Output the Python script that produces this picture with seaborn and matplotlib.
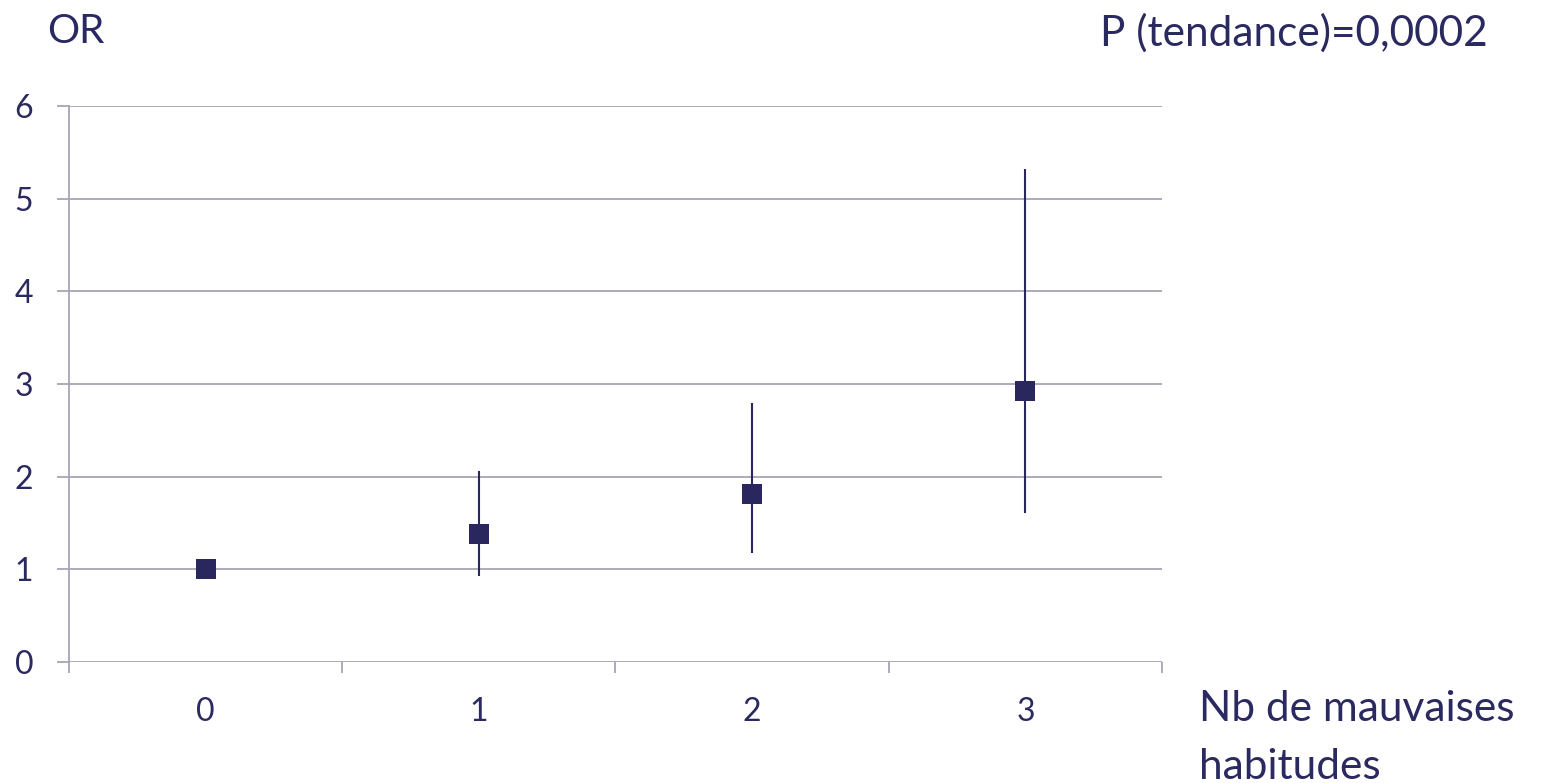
import matplotlib
matplotlib.use("Agg")
import matplotlib.pyplot as plt
import seaborn as sns
import pandas as pd
import numpy as np

# Data
categories = ["0", "1", "2", "3"]
or_values = [1.00, 1.38, 1.81, 2.93]
ci_low = [1.00, 0.93, 1.18, 1.61]
ci_high = [1.00, 2.06, 2.79, 5.32]
y_ticks = [0, 1, 2, 3, 4, 5, 6]

NAVY = "#29275e"
GRID = "#a5a5b5"
TXT = "#2b2a60"

sns.set_theme(style="white")
plt.rcParams["font.family"] = ["Lato", "DejaVu Sans"]

df = pd.DataFrame({"cat": categories, "OR": or_values, "lo": ci_low, "hi": ci_high})
df["pos"] = np.arange(len(df))

fig = plt.figure(figsize=(15.42, 7.83), dpi=100)
ax = fig.add_axes([0.0447, 0.1545, 0.7089, 0.7101])

# CI lines
ax.vlines(df["pos"], df["lo"], df["hi"], color=NAVY, lw=1.5, zorder=3)
sns.scatterplot(data=df, x="pos", y="OR", marker="s", s=200, color=NAVY,
                edgecolor=NAVY, linewidth=0, ax=ax, zorder=4, legend=False)

ax.set_xlim(-0.5, 3.5)
ax.set_ylim(0, 6)
ax.set_yticks(y_ticks)
ax.set_yticklabels([str(t) for t in y_ticks])
ax.set_xticks(df["pos"])
ax.set_xticklabels(categories)
ax.set_xticks(np.arange(-0.5, 4.0, 1.0), minor=True)

for yv in y_ticks:
    ax.axhline(yv, color=GRID, lw=1.3, zorder=1)

for s in ["top", "right", "bottom"]:
    ax.spines[s].set_visible(False)
ax.spines["left"].set_color(GRID)
ax.spines["left"].set_linewidth(1.3)
ax.spines["left"].set_bounds(0, 6)

ax.tick_params(axis="y", which="major", length=8.6, width=1.3, color=GRID,
               labelsize=23, labelcolor=TXT, pad=17, left=True)
ax.tick_params(axis="x", which="major", length=0, labelsize=23, labelcolor=TXT, pad=25)
ax.tick_params(axis="x", which="minor", length=8, width=1.3, color=GRID,
               bottom=True, direction="out")
ax.set_xlabel("")
ax.set_ylabel("")

fig.text(0.0305, 1 - 43 / 783, "OR", fontsize=29, color=TXT, ha="left", va="baseline")
fig.text(1100 / 1542, 1 - 46 / 783, "P (tendance)=0,0002", fontsize=30.5, color=TXT,
         ha="left", va="baseline")
fig.text(1199 / 1542, 1 - 721 / 783, "Nb de mauvaises", fontsize=30.5, color=TXT,
         ha="left", va="baseline")
fig.text(1199 / 1542, 1 - 779 / 783, "habitudes", fontsize=30.5, color=TXT,
         ha="left", va="baseline")

fig.savefig("out.png", dpi=100, facecolor="white")
